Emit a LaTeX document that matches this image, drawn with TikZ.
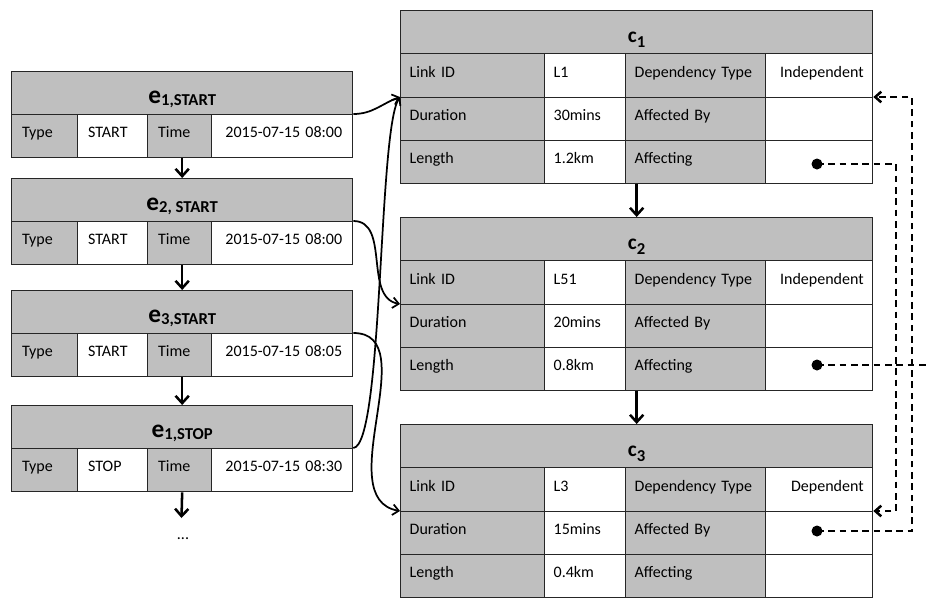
\documentclass[tikz,border=0pt]{standalone}
\usepackage{fontspec}
\setmainfont{Carlito}
\usetikzlibrary{arrows.meta}
\definecolor{cellgray}{RGB}{191,191,191}
\definecolor{edgecol}{RGB}{38,38,38}
\def\pxu{0.75pt}
\newcommand{\etitle}[1]{{\fontsize{19}{20}\selectfont\bfseries e}\raisebox{-1.5pt}{\fontsize{12.5}{14}\selectfont\bfseries #1}}
\newcommand{\ctitle}[1]{{\fontsize{16}{18}\selectfont\bfseries c}\raisebox{-4pt}{\fontsize{12.5}{14}\selectfont\bfseries #1}}
\tikzset{
  cellbase/.style={draw=edgecol, line width=1pt, anchor=north west, inner ysep=0pt,
    font=\fontsize{12}{14}\selectfont, text height=8.5pt, text depth=6pt},
  lab/.style={cellbase, fill=cellgray, align=left},
  val/.style={cellbase, fill=white, align=left},
  valr/.style={cellbase, fill=white, align=right},
  hdr/.style={cellbase, fill=cellgray, align=center, text height=15pt, text depth=0pt},
  ew/.style={inner xsep=10.5*\pxu, minimum height=43*\pxu},
  cw/.style={inner xsep=9*\pxu},
  flow/.style={line width=1.9pt, -{Straight Barb[length=5.5pt,width=10pt]}},
  link/.style={line width=1.3pt, -{Straight Barb[length=4.5pt,width=8pt]}},
  dep/.style={line width=1.9pt, dash pattern=on 5pt off 3.5pt, -{Straight Barb[length=4.5pt,width=8pt]}},
  deptail/.style={line width=1.9pt, dash pattern=on 5pt off 3.5pt},
  dot/.style={circle, fill=black, inner sep=0pt, minimum size=11*\pxu},
}
\newcommand{\etab}[5]{%
  \node[hdr, minimum width=341*\pxu, minimum height=43*\pxu] (#1h) at (11,#2) {#3};
  \node[lab, ew, minimum width=66*\pxu, text width=45*\pxu] (#1a) at (11,{#2+43}) {Type};
  \node[val, ew, minimum width=70*\pxu, text width=49*\pxu] (#1b) at (77,{#2+43}) {#4};
  \node[lab, ew, minimum width=64*\pxu, text width=43*\pxu] (#1c) at (147,{#2+43}) {Time};
  \node[valr, ew, minimum width=141*\pxu, text width=120*\pxu] (#1d) at (211,{#2+43}) {#5};
}
\newcommand{\ctab}[7]{%
  \node[hdr, minimum width=472*\pxu, minimum height=43*\pxu] (#1h) at (400,#2) {#3};
  \node[lab, cw, minimum height=44*\pxu, minimum width=144*\pxu, text width=126*\pxu] (#11a) at (400,{#2+43}) {Link ID};
  \node[val, cw, minimum height=44*\pxu, minimum width=81*\pxu, text width=63*\pxu] (#11b) at (544,{#2+43}) {#4};
  \node[lab, cw, minimum height=44*\pxu, minimum width=140*\pxu, text width=122*\pxu] (#11c) at (625,{#2+43}) {Dependency Type};
  \node[valr, cw, minimum height=44*\pxu, minimum width=107*\pxu, text width=89*\pxu] (#11d) at (765,{#2+43}) {#7};
  \node[lab, cw, minimum height=43*\pxu, minimum width=144*\pxu, text width=126*\pxu] (#12a) at (400,{#2+87}) {Duration};
  \node[val, cw, minimum height=43*\pxu, minimum width=81*\pxu, text width=63*\pxu] (#12b) at (544,{#2+87}) {#5};
  \node[lab, cw, minimum height=43*\pxu, minimum width=140*\pxu, text width=122*\pxu] (#12c) at (625,{#2+87}) {Affected By};
  \node[valr, cw, minimum height=43*\pxu, minimum width=107*\pxu, text width=89*\pxu] (#12d) at (765,{#2+87}) {};
  \node[lab, cw, minimum height=43*\pxu, minimum width=144*\pxu, text width=126*\pxu] (#13a) at (400,{#2+130}) {Length};
  \node[val, cw, minimum height=43*\pxu, minimum width=81*\pxu, text width=63*\pxu] (#13b) at (544,{#2+130}) {#6};
  \node[lab, cw, minimum height=43*\pxu, minimum width=140*\pxu, text width=122*\pxu] (#13c) at (625,{#2+130}) {Affecting};
  \node[valr, cw, minimum height=43*\pxu, minimum width=107*\pxu, text width=89*\pxu] (#13d) at (765,{#2+130}) {};
}
\begin{document}
\begin{tikzpicture}[x=0.75pt,y=-0.75pt]
\fill[white] (0,0) rectangle (926,601);
\useasboundingbox (0,0) rectangle (926,601);

% event tables
\etab{ea}{71}{\etitle{1,START}}{START}{2015-07-15 08:00}
\etab{eb}{178}{\etitle{2, START}}{START}{2015-07-15 08:00}
\etab{ec}{290}{\etitle{3,START}}{START}{2015-07-15 08:05}
\etab{ed}{405}{\etitle{1,STOP}}{STOP}{2015-07-15 08:30}
\node[font=\fontsize{12}{14}\selectfont] (more) at (183,539) {...};
\coordinate (moreend) at (181.5,518);

% link tables
\ctab{ca}{10}{\ctitle{1}}{L1}{30mins}{1.2km}{Independent}
\ctab{cb}{217}{\ctitle{2}}{L51}{20mins}{0.8km}{Independent}
\ctab{cc}{424}{\ctitle{3}}{L3}{15mins}{0.4km}{Dependent}

% vertical flow arrows
\draw[flow] (eah.north |- ead.south) -- (ebh.north);
\draw[flow] (ebh.north |- ebd.south) -- (ech.north);
\draw[flow] (ech.north |- ecd.south) -- (edh.north);
\draw[flow] (edh.north |- edd.south) -- (moreend);
\draw[flow] (cah.north |- ca3d.south) -- (cbh.north);
\draw[flow] (cbh.north |- cb3d.south) -- (cch.north);

% event to link connectors
\draw[link] (ead.north east) to[out=0,in=200] (ca2a.north west);
\draw[link] (ebd.north east) to[out=0,in=170] (cb2a.north west);
\draw[link] (ecd.north east) to[out=0,in=170] (cc2a.north west);
\draw[link] (edd.north east) .. controls +(30,-3) and +(-22,33) .. (ca2a.north west);

% dependency connectors
\coordinate (pa) at (817,164);
\coordinate (pb) at (817,365);
\coordinate (pc) at (817,531);
\coordinate (xa) at (896,0);
\coordinate (xb) at (912,0);
\coordinate (edge) at (926,0);
\draw[dep] (pa) -- (pa -| xa) -- (xa |- cc2d.north east) -- (cc2d.north east);
\draw[dep] (pc) -- (pc -| xb) -- (xb |- ca2d.north east) -- (ca2d.north east);
\draw[deptail] (pb) -- (pb -| edge);
\node[dot] (dota) at (pa) {};
\node[dot] (dotb) at (pb) {};
\node[dot] (dotc) at (pc) {};
\end{tikzpicture}
\end{document}
